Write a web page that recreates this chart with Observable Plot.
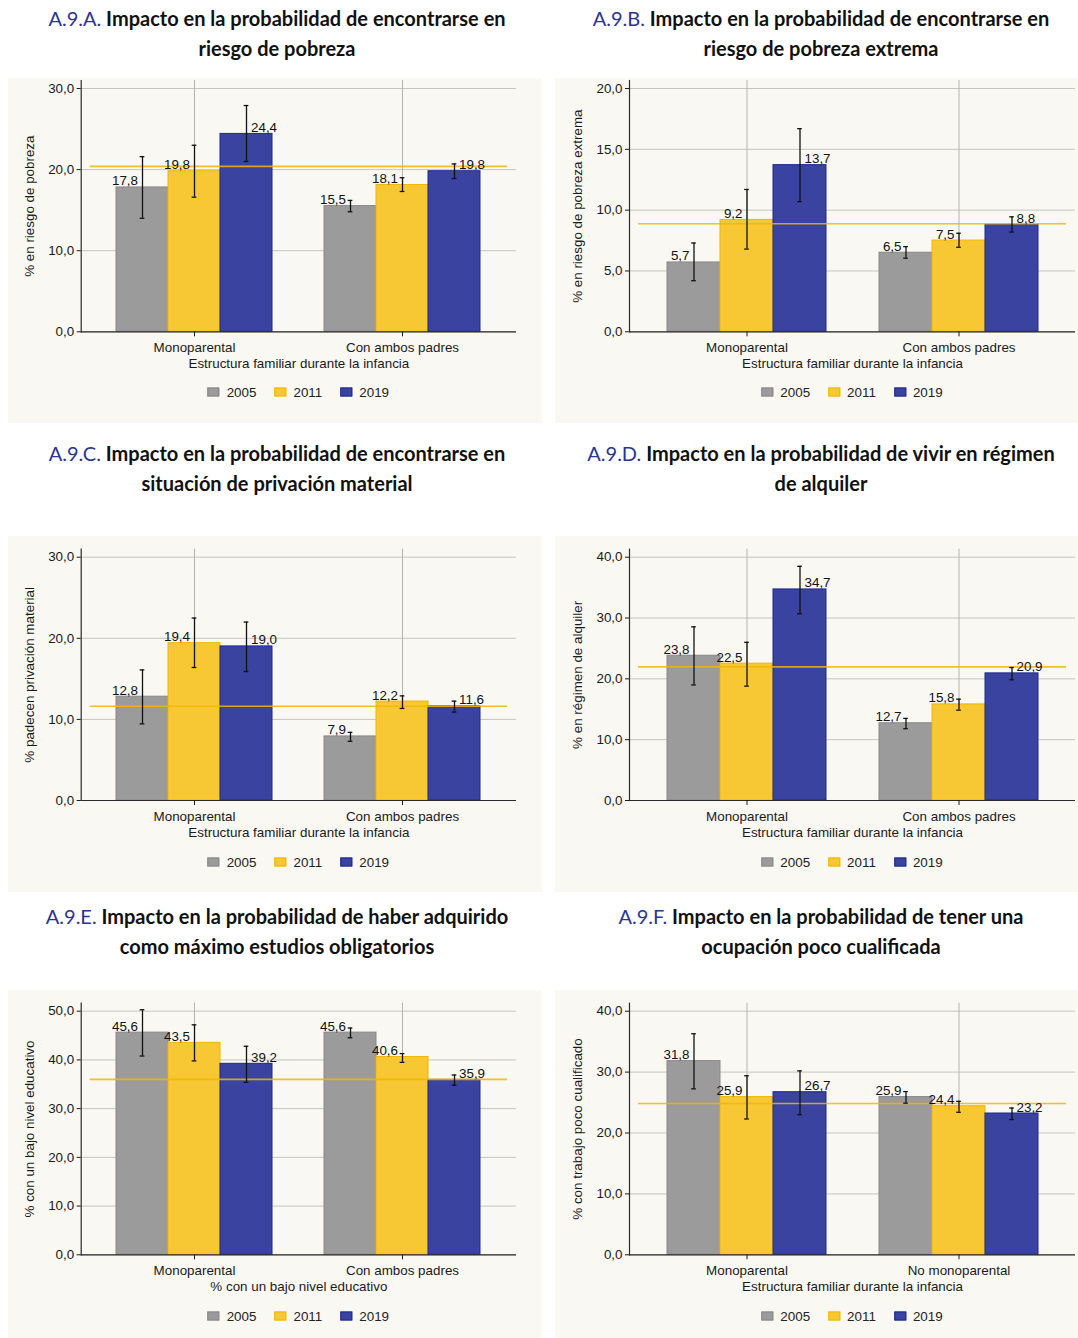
<!DOCTYPE html>
<html><head><meta charset="utf-8">
<script src="https://cdn.jsdelivr.net/npm/d3@7"></script>
<script src="https://cdn.jsdelivr.net/npm/@observablehq/plot@0.6"></script>
<style>
body{margin:0;background:#fff;}
#root{position:relative;width:1078px;height:1338px;overflow:hidden;}
.title{position:absolute;width:640px;text-align:center;font-family:Lato,"Open Sans",sans-serif;font-weight:700;font-size:20px;line-height:30px;color:#111;}
.title .code{color:#2a3592;font-weight:400;}
.box{position:absolute;background:#f9f8f3;}
.box svg{position:absolute;left:0;top:0;}
.legend{position:absolute;display:flex;align-items:center;transform:translate(-50%,-50%);font-family:"Liberation Sans",Arial,sans-serif;font-size:13.4px;color:#222;white-space:nowrap;}
.sw{display:inline-block;width:10px;height:7px;border:1px solid;margin-right:7px;}
.item{display:flex;align-items:center;margin-right:18px;}
.item:last-child{margin-right:0;}
</style></head><body><div id="root"></div>
<script>
// ---- data ----
const years = ["2005", "2011", "2019"];
const yearFill = ["#9b9b9b", "#f7c833", "#3a43a0"];
const yearStroke = ["#888888", "#f0b800", "#1f2a8c"];

const codeA = "A.9.A.";
const titleA = ["Impacto en la probabilidad de encontrarse en", "riesgo de pobreza"];
const catsA = ["Monoparental", "Con ambos padres"];
const valuesA = [17.8, 19.8, 24.4, 15.5, 18.1, 19.8];
const lowA = [14.0, 16.6, 21.0, 14.8, 17.3, 18.9];
const highA = [21.6, 23.0, 27.9, 16.2, 19.0, 20.7];
const refA = 20.4;
const ticksA = [0, 10, 20, 30];
const yTitleA = "% en riesgo de pobreza";
const xTitleA = "Estructura familiar durante la infancia";

const codeB = "A.9.B.";
const titleB = ["Impacto en la probabilidad de encontrarse en", "riesgo de pobreza extrema"];
const catsB = ["Monoparental", "Con ambos padres"];
const valuesB = [5.7, 9.2, 13.7, 6.5, 7.5, 8.8];
const lowB = [4.2, 6.8, 10.7, 6.05, 6.95, 8.2];
const highB = [7.3, 11.7, 16.7, 7.0, 8.1, 9.45];
const refB = 8.88;
const ticksB = [0, 5, 10, 15, 20];
const yTitleB = "% en riesgo de pobreza extrema";
const xTitleB = "Estructura familiar durante la infancia";

const codeC = "A.9.C.";
const titleC = ["Impacto en la probabilidad de encontrarse en", "situación de privación material"];
const catsC = ["Monoparental", "Con ambos padres"];
const valuesC = [12.8, 19.4, 19.0, 7.9, 12.2, 11.6];
const lowC = [9.45, 16.4, 15.9, 7.3, 11.35, 10.9];
const highC = [16.1, 22.5, 22.0, 8.4, 12.9, 12.25];
const refC = 11.63;
const ticksC = [0, 10, 20, 30];
const yTitleC = "% padecen privación material";
const xTitleC = "Estructura familiar durante la infancia";

const codeD = "A.9.D.";
const titleD = ["Impacto en la probabilidad de vivir en régimen", "de alquiler"];
const catsD = ["Monoparental", "Con ambos padres"];
const valuesD = [23.8, 22.5, 34.7, 12.7, 15.8, 20.9];
const lowD = [19.0, 18.8, 30.7, 11.8, 14.85, 19.84];
const highD = [28.55, 26.0, 38.5, 13.5, 16.66, 21.86];
const refD = 21.97;
const ticksD = [0, 10, 20, 30, 40];
const yTitleD = "% en régimen de alquiler";
const xTitleD = "Estructura familiar durante la infancia";

const codeE = "A.9.E.";
const titleE = ["Impacto en la probabilidad de haber adquirido", "como máximo estudios obligatorios"];
const catsE = ["Monoparental", "Con ambos padres"];
const valuesE = [45.6, 43.5, 39.2, 45.6, 40.6, 35.9];
const lowE = [40.8, 39.8, 35.4, 44.55, 39.5, 34.8];
const highE = [50.3, 47.2, 42.8, 46.55, 41.3, 36.9];
const refE = 36.0;
const ticksE = [0, 10, 20, 30, 40, 50];
const yTitleE = "% con un bajo nivel educativo";
const xTitleE = "% con un bajo nivel educativo";

const codeF = "A.9.F.";
const titleF = ["Impacto en la probabilidad de tener una", "ocupación poco cualificada"];
const catsF = ["Monoparental", "No monoparental"];
const valuesF = [31.8, 25.9, 26.7, 25.9, 24.4, 23.2];
const lowF = [27.25, 22.3, 23.0, 24.9, 23.4, 22.2];
const highF = [36.3, 29.4, 30.2, 26.8, 25.2, 24.1];
const refF = 24.85;
const ticksF = [0, 10, 20, 30, 40];
const yTitleF = "% con trabajo poco cualificado";
const xTitleF = "Estructura familiar durante la infancia";

// ---- layout ----
const panels = [
  {code: codeA, title: titleA, cats: catsA, values: valuesA, low: lowA, high: highA, ref: refA, ticks: ticksA, yTitle: yTitleA, xTitle: xTitleA, row: 0, col: 0},
  {code: codeB, title: titleB, cats: catsB, values: valuesB, low: lowB, high: highB, ref: refB, ticks: ticksB, yTitle: yTitleB, xTitle: xTitleB, row: 0, col: 1},
  {code: codeC, title: titleC, cats: catsC, values: valuesC, low: lowC, high: highC, ref: refC, ticks: ticksC, yTitle: yTitleC, xTitle: xTitleC, row: 1, col: 0},
  {code: codeD, title: titleD, cats: catsD, values: valuesD, low: lowD, high: highD, ref: refD, ticks: ticksD, yTitle: yTitleD, xTitle: xTitleD, row: 1, col: 1},
  {code: codeE, title: titleE, cats: catsE, values: valuesE, low: lowE, high: highE, ref: refE, ticks: ticksE, yTitle: yTitleE, xTitle: xTitleE, row: 2, col: 0},
  {code: codeF, title: titleF, cats: catsF, values: valuesF, low: lowF, high: highF, ref: refF, ticks: ticksF, yTitle: yTitleF, xTitle: xTitleF, row: 2, col: 1}
];
const rowGeom = [
  {boxTop: 78, boxH: 345, mt: 2, bottom: 253.3, legendY: 314, titleTop: 3},
  {boxTop: 536, boxH: 356, mt: 12.7, bottom: 264, legendY: 325.7, titleTop: 438},
  {boxTop: 990, boxH: 348, mt: 12.7, bottom: 264.3, legendY: 325.7, titleTop: 901}
];
const colGeom = [
  {left: 8, w: 534, ml: 72.7, mr: 26, pO: 0.66, titleCenter: 277},
  {left: 555, w: 523, ml: 74, mr: 3, pO: 0.68, titleCenter: 821}
];

const fmt = d => d.toFixed(1).replace(".", ",");
const root = document.getElementById("root");

for (const p of panels) {
  const rg = rowGeom[p.row], cg = colGeom[p.col];

  const t = document.createElement("div");
  t.className = "title";
  t.style.left = (cg.titleCenter - 320) + "px";
  t.style.top = rg.titleTop + "px";
  t.innerHTML = `<span class="code">${p.code}</span> ${p.title[0]}<br>${p.title[1]}`;
  root.appendChild(t);

  const box = document.createElement("div");
  box.className = "box";
  box.style.left = cg.left + "px";
  box.style.top = rg.boxTop + "px";
  box.style.width = cg.w + "px";
  box.style.height = rg.boxH + "px";
  root.appendChild(box);

  const rows = [];
  p.cats.forEach((c, ci) => years.forEach((y, yi) => {
    const i = ci * years.length + yi;
    rows.push({key: c + "|" + y, cat: c, year: y, value: p.values[i], lo: p.low[i], hi: p.high[i]});
  }));
  const xDomain = [
    ...years.map(y => p.cats[0] + "|" + y),
    "gap",
    ...years.map(y => p.cats[1] + "|" + y)
  ];
  const tickKeys = p.cats.map(c => c + "|" + years[1]);

  const height = rg.bottom + 42;
  const plotW = cg.w - cg.ml - cg.mr;
  const bw = plotW / (xDomain.length + 2 * cg.pO);
  const capInset = (bw - 5) / 2;
  const yMax = p.ticks[p.ticks.length - 1];

  const chart = Plot.plot({
    width: cg.w,
    height,
    marginLeft: cg.ml,
    marginRight: cg.mr,
    marginTop: rg.mt,
    marginBottom: height - rg.bottom,
    style: {background: "transparent", fontFamily: '"Liberation Sans", Arial, sans-serif', fontSize: "13.4px", color: "#1a1a1a", overflow: "visible"},
    x: {domain: xDomain, paddingInner: 0, paddingOuter: cg.pO},
    y: {domain: [0, yMax], insetTop: 8},
    color: {domain: years, range: yearFill},
    marks: [
      Plot.gridY(p.ticks, {stroke: "#c6c6bd", strokeOpacity: 1}),
      Plot.ruleX(tickKeys, {x: d => d, stroke: "#b5b5ad"}),
      Plot.barY(rows, {x: "key", y: "value", fill: "year", stroke: d => yearStroke[years.indexOf(d.year)], strokeWidth: 1}),
      Plot.ruleY([p.ref], {y: d => d, stroke: "#f2b600", strokeOpacity: 0.85, strokeWidth: 1.6, insetLeft: 9, insetRight: 9}),
      Plot.ruleX(rows, {x: "key", y1: "lo", y2: "hi", stroke: "#111", strokeWidth: 1.3}),
      Plot.tickY(rows, {x: "key", y: "lo", stroke: "#111", strokeWidth: 1.3, insetLeft: capInset, insetRight: capInset}),
      Plot.tickY(rows, {x: "key", y: "hi", stroke: "#111", strokeWidth: 1.3, insetLeft: capInset, insetRight: capInset}),
      Plot.text(rows.filter(d => d.year !== years[2]), {x: "key", y: "value", text: d => fmt(d.value), textAnchor: "end", lineAnchor: "bottom", dx: -4.5, dy: -2, fill: "#111"}),
      Plot.text(rows.filter(d => d.year === years[2]), {x: "key", y: "value", text: d => fmt(d.value), textAnchor: "start", lineAnchor: "bottom", dx: 4.5, dy: -2, fill: "#111"}),
      Plot.ruleY([0], {stroke: "#2a2a2a", strokeWidth: 1.2}),
      Plot.frame({anchor: "left", stroke: "#2a2a2a", strokeWidth: 1.2}),
      Plot.axisY({ticks: p.ticks, tickFormat: fmt, tickSize: 4, tickPadding: 3, label: p.yTitle, labelAnchor: "center", labelArrow: "none", labelOffset: 57}),
      Plot.axisX({ticks: tickKeys, tickFormat: k => k.split("|")[0], tickSize: 5, tickPadding: 6, label: p.xTitle, labelAnchor: "center", labelArrow: "none", labelOffset: 36.5})
    ]
  });
  box.appendChild(chart);

  const lg = document.createElement("div");
  lg.className = "legend";
  lg.style.left = (cg.ml + plotW / 2) + "px";
  lg.style.top = rg.legendY + "px";
  lg.innerHTML = years.map((y, i) => `<span class="item"><span class="sw" style="background:${yearFill[i]};border-color:${yearStroke[i]}"></span>${y}</span>`).join("");
  box.appendChild(lg);
}
</script></body></html>
